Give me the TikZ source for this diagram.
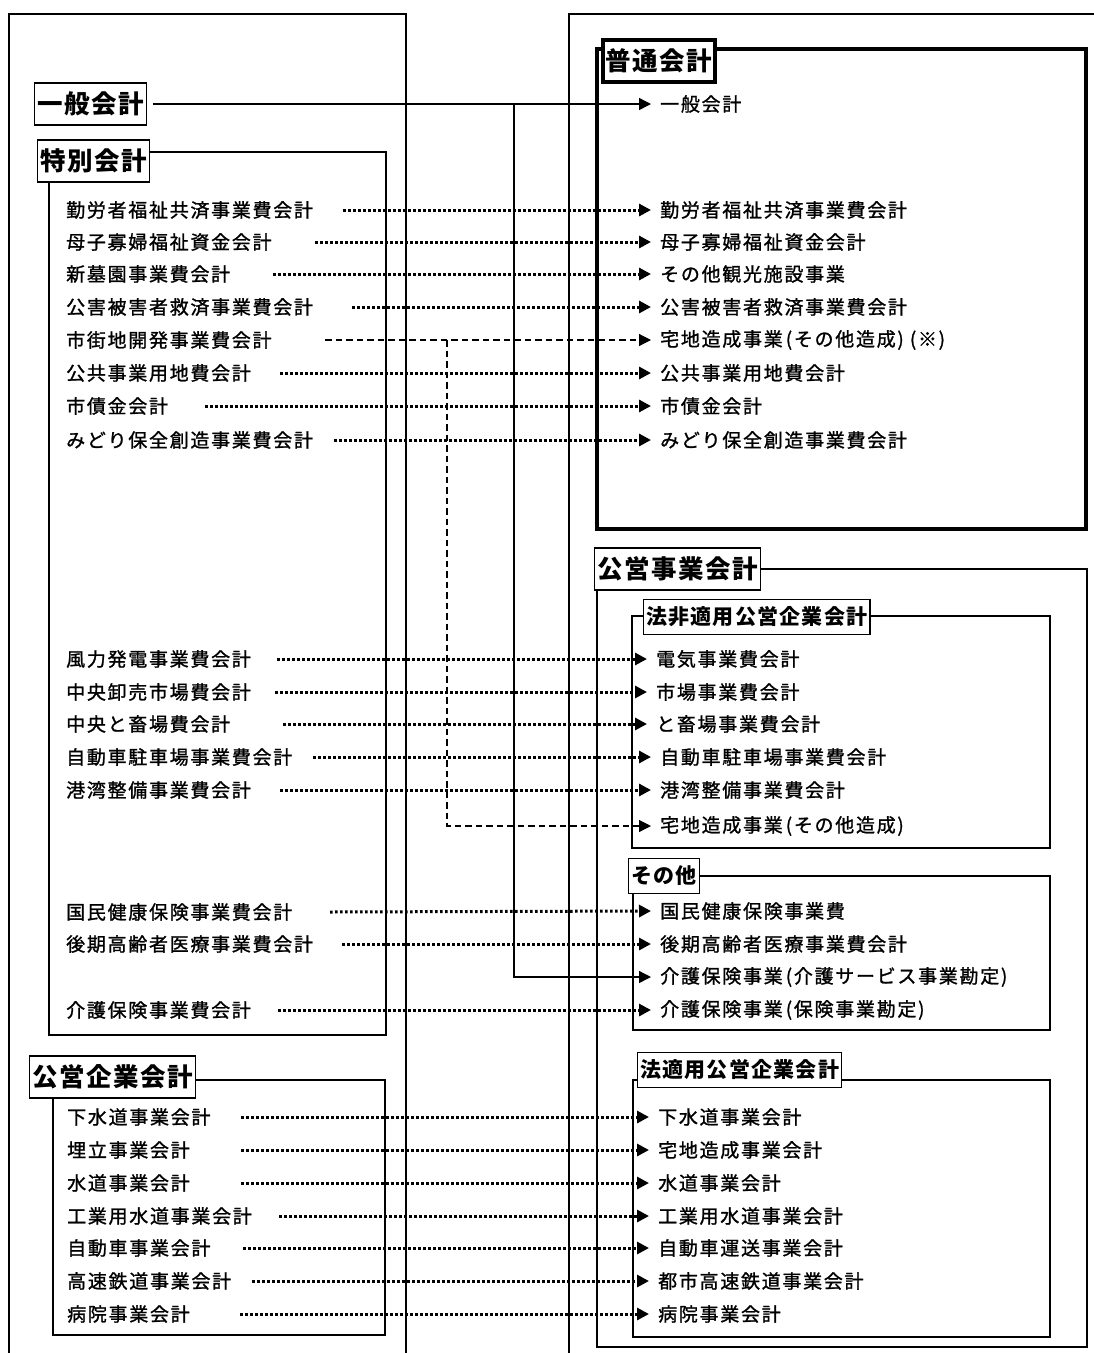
\documentclass[tikz,border=0pt]{standalone}
\usepackage{fontspec}
\usetikzlibrary{arrows.meta}
\newfontfamily\jp{Noto Sans CJK JP}[LetterSpace=9,FakeBold=1.2]
\newfontfamily\jpt{Noto Sans CJK JP}[LetterSpace=6]
\newcommand\lpar{\kern3pt(}
\newcommand\rpar{)\kern3pt}
\tikzset{
  item/.style={anchor=west, inner sep=0pt, font=\jp\fontsize{19}{22}\selectfont},
  ttl/.style={draw, line width=1.3pt, fill=white, inner xsep=2.5pt, inner ysep=0pt, minimum height=42pt, anchor=west, font=\jpt\bfseries\fontsize{25.5}{30}\selectfont},
  subttl/.style={ttl, minimum height=35pt, font=\jpt\bfseries\fontsize{21}{24}\selectfont},
  frm/.style={draw, line width=1.3pt},
  tipx/.style={-{Triangle[length=12pt,width=12pt]}},
  dotline/.style={line width=3pt, dash pattern=on 2.6pt off 2.4pt, tipx},
  dashline/.style={line width=1.2pt, dash pattern=on 6.5pt off 4pt},
  solidline/.style={line width=1.4pt}
}
\newcommand\dotc[3]{\draw[dotline] (#3,0 |- #1) -- ([xshift=-9pt]#2.west);}
\begin{document}
\begin{tikzpicture}[x=1pt,y=-1pt]
\useasboundingbox (0,0) rectangle (1094,1353);
\fill[white] (0,0) rectangle (1094,1353);
% outer frames
\draw[line width=1.4pt] (9,1353) -- (9,14) -- (406,14) -- (406,1353);
\draw[line width=1.4pt] (1094,14) -- (569,14) -- (569,1353);
% left inner frames
\draw[frm] (49,152) rectangle (386,1035);
\draw[frm] (53,1080) rectangle (385,1335);
% right frames
\draw[line width=4.5pt] (597,49) rectangle (1086,529);
\draw[frm] (597,569) rectangle (1087,1347);
\draw[frm] (632,616) rectangle (1050,848);
\draw[frm] (633,876) rectangle (1050,1030);
\draw[frm] (633,1080) rectangle (1050,1337);
% titles
\node[ttl] (TG) at (34,104) {一般会計};
\node[ttl] (TS) at (37,161) {特別会計};
\node[ttl, line width=4pt] (TF) at (601,61) {普通会計};
\node[ttl] (TK) at (594,569) {公営事業会計};
\node[ttl] (TE) at (29,1077) {公営企業会計};
\node[subttl] (TH) at (643,617) {法非適用公営企業会計};
\node[subttl] (TO) at (628,876) {その他};
\node[subttl] (TA) at (637,1070) {法適用公営企業会計};
% left items
\node[item] (L1) at (66,210) {勤労者福祉共済事業費会計};
\node[item] (L2) at (66,242) {母子寡婦福祉資金会計};
\node[item] (L3) at (66,274) {新墓園事業費会計};
\node[item] (L4) at (66,307) {公害被害者救済事業費会計};
\node[item] (L5) at (66,340) {市街地開発事業費会計};
\node[item] (L6) at (66,373) {公共事業用地費会計};
\node[item] (L7) at (66,406) {市債金会計};
\node[item] (L8) at (66,440) {みどり保全創造事業費会計};
\node[item] (L9) at (66,659) {風力発電事業費会計};
\node[item] (L10) at (66,692) {中央卸売市場費会計};
\node[item] (L11) at (66,724) {中央と畜場費会計};
\node[item] (L12) at (66,757) {自動車駐車場事業費会計};
\node[item] (L13) at (66,790) {港湾整備事業費会計};
\node[item] (L14) at (66,912) {国民健康保険事業費会計};
\node[item] (L15) at (66,944) {後期高齢者医療事業費会計};
\node[item] (L16) at (66,1010) {介護保険事業費会計};
\node[item] (P1) at (67,1117) {下水道事業会計};
\node[item] (P2) at (67,1150) {埋立事業会計};
\node[item] (P3) at (67,1183) {水道事業会計};
\node[item] (P4) at (67,1216) {工業用水道事業会計};
\node[item] (P5) at (67,1248) {自動車事業会計};
\node[item] (P6) at (67,1281) {高速鉄道事業会計};
\node[item] (P7) at (67,1314) {病院事業会計};
% right items
\node[item] (R0) at (660,104) {一般会計};
\node[item] (R1) at (660,210) {勤労者福祉共済事業費会計};
\node[item] (R2) at (660,242) {母子寡婦福祉資金会計};
\node[item] (R3) at (660,274) {その他観光施設事業};
\node[item] (R4) at (660,307) {公害被害者救済事業費会計};
\node[item] (R5) at (660,340) {宅地造成事業\lpar その他造成\rpar\lpar ※\rpar};
\node[item] (R6) at (660,373) {公共事業用地費会計};
\node[item] (R7) at (660,406) {市債金会計};
\node[item] (R8) at (660,440) {みどり保全創造事業費会計};
\node[item] (R9) at (656,659) {電気事業費会計};
\node[item] (R10) at (656,692) {市場事業費会計};
\node[item] (R11) at (656,724) {と畜場事業費会計};
\node[item] (R12) at (660,757) {自動車駐車場事業費会計};
\node[item] (R13) at (660,790) {港湾整備事業費会計};
\node[item] (R14) at (660,826) {宅地造成事業\lpar その他造成\rpar};
\node[item] (R15) at (660,911) {国民健康保険事業費};
\node[item] (R16) at (660,944) {後期高齢者医療事業費会計};
\node[item] (R17) at (660,977) {介護保険事業\lpar 介護サービス事業勘定\rpar};
\node[item] (R18) at (660,1010) {介護保険事業\lpar 保険事業勘定\rpar};
\node[item] (Q1) at (658,1117) {下水道事業会計};
\node[item] (Q2) at (658,1150) {宅地造成事業会計};
\node[item] (Q3) at (658,1183) {水道事業会計};
\node[item] (Q4) at (658,1216) {工業用水道事業会計};
\node[item] (Q5) at (658,1248) {自動車運送事業会計};
\node[item] (Q6) at (658,1281) {都市高速鉄道事業会計};
\node[item] (Q7) at (658,1314) {病院事業会計};
% solid connectors
\draw[solidline, tipx] ([xshift=6pt]TG.east) -- ([xshift=-9pt]R0.west);
\draw[solidline, tipx] (514,0 |- TG.east) |- ([xshift=-9pt]R17.west);
% dashed connectors
\draw[dashline, tipx] (325,0 |- L5) -- ([xshift=-9pt]R5.west);
\draw[dashline, tipx] (447,0 |- L5) |- ([xshift=-9pt]R14.west);
% dotted connectors
\dotc{L1}{R1}{343}
\dotc{L2}{R2}{315}
\dotc{L3}{R3}{273}
\dotc{L4}{R4}{352}
\dotc{L6}{R6}{280}
\dotc{L7}{R7}{205}
\dotc{L8}{R8}{334}
\dotc{L9}{R9}{277}
\dotc{L10}{R10}{275}
\dotc{L11}{R11}{283}
\dotc{L12}{R12}{313}
\dotc{L13}{R13}{280}
\dotc{L14}{R15}{330}
\dotc{L15}{R16}{342}
\dotc{L16}{R18}{278}
\dotc{P1}{Q1}{241}
\dotc{P2}{Q2}{241}
\dotc{P3}{Q3}{241}
\dotc{P4}{Q4}{279}
\dotc{P5}{Q5}{243}
\dotc{P6}{Q6}{252}
\dotc{P7}{Q7}{240}
\end{tikzpicture}
\end{document}
